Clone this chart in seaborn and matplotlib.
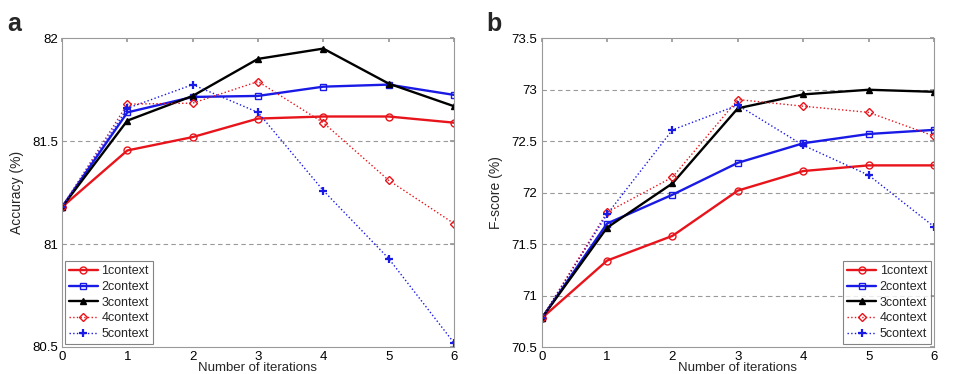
import matplotlib
matplotlib.use("Agg")
import matplotlib.pyplot as plt
import seaborn as sns
import pandas as pd

iterations = [0, 1, 2, 3, 4, 5, 6]
series_names = ["1context", "2context", "3context", "4context", "5context"]

acc_1 = [81.18, 81.455, 81.52, 81.61, 81.62, 81.62, 81.59]
acc_2 = [81.18, 81.64, 81.715, 81.72, 81.765, 81.775, 81.725]
acc_3 = [81.18, 81.60, 81.72, 81.90, 81.95, 81.78, 81.67]
acc_4 = [81.18, 81.68, 81.685, 81.79, 81.59, 81.31, 81.10]
acc_5 = [81.18, 81.66, 81.775, 81.64, 81.26, 80.93, 80.52]

f_1 = [70.78, 71.34, 71.58, 72.02, 72.21, 72.265, 72.265]
f_2 = [70.78, 71.70, 71.98, 72.29, 72.48, 72.57, 72.61]
f_3 = [70.78, 71.66, 72.09, 72.82, 72.955, 73.00, 72.98]
f_4 = [70.78, 71.81, 72.15, 72.905, 72.84, 72.78, 72.55]
f_5 = [70.78, 71.79, 72.61, 72.85, 72.46, 72.17, 71.67]

acc_ticks = [80.5, 81, 81.5, 82]
f_ticks = [70.5, 71, 71.5, 72, 72.5, 73, 73.5]

sns.set_theme(style="white")
plt.rcParams["font.family"] = ["Liberation Sans", "DejaVu Sans"]

styles = [
    dict(color="#e8141b", marker="o", linestyle="-", linewidth=1.7, markersize=5,
         markerfacecolor="none", markeredgewidth=1.0, markeredgecolor="#e8141b"),
    dict(color="#1a1ae6", marker="s", linestyle="-", linewidth=1.7, markersize=5,
         markerfacecolor="none", markeredgewidth=1.0, markeredgecolor="#1a1ae6"),
    dict(color="black", marker="^", linestyle="-", linewidth=1.7, markersize=5,
         markerfacecolor="black", markeredgewidth=1.0, markeredgecolor="black"),
    dict(color="#e8141b", marker="D", linestyle=":", linewidth=1.0, markersize=4.5,
         markerfacecolor="none", markeredgewidth=1.0, markeredgecolor="#e8141b"),
    dict(color="#1a1ae6", marker="+", linestyle=":", linewidth=1.0, markersize=6,
         markeredgewidth=1.6, markeredgecolor="#1a1ae6"),
]

fig = plt.figure(figsize=(9.58, 3.74), dpi=100)
ax_a = fig.add_axes([62/958, 1-347/374, (454-62)/958, (347-38.3)/374])
ax_b = fig.add_axes([541.7/958, 1-347/374, (934-541.7)/958, (347-38.3)/374])


def draw(ax, data, ticks, ylabel, legend_loc, panel):
    for name, vals, st in zip(series_names, data, styles):
        df = pd.DataFrame({"it": iterations, "v": vals})
        sns.lineplot(data=df, x="it", y="v", ax=ax, label=name, **st)
    ax.set_xlim(0, 6)
    ax.set_ylim(ticks[0], ticks[-1])
    ax.set_xticks(iterations)
    ax.set_yticks(ticks)
    ax.set_yticklabels([f"{t:g}" for t in ticks])
    for t in ticks[1:-1]:
        ax.axhline(t, color="#999999", linestyle=(0, (4, 3)), linewidth=0.8, zorder=0)
    ax.tick_params(direction="in", length=3, top=True, right=True, labelsize=9.5,
                   colors="#999999", labelcolor="black", pad=3)
    for s in ax.spines.values():
        s.set_color("#999999")
        s.set_linewidth(0.8)
    ax.set_xlabel("Number of iterations", fontsize=9.5, labelpad=-0.5)
    ax.set_ylabel(ylabel, fontsize=10, labelpad=6)
    leg = ax.legend(loc=legend_loc, fontsize=9, frameon=True, fancybox=False,
                    handlelength=2.3, handletextpad=0.3, borderpad=0.3,
                    labelspacing=0.3, borderaxespad=0.25)
    leg.get_frame().set_edgecolor("#666666")
    leg.get_frame().set_linewidth(0.8)
    ax.text(-0.14, 1.085, panel, transform=ax.transAxes, fontsize=18,
            fontweight="bold", va="top", ha="left")


draw(ax_a, [acc_1, acc_2, acc_3, acc_4, acc_5], acc_ticks, "Accuracy (%)",
     "lower left", "a")
draw(ax_b, [f_1, f_2, f_3, f_4, f_5], f_ticks, "F-score (%)", "lower right", "b")

fig.savefig("out.png", dpi=100)
